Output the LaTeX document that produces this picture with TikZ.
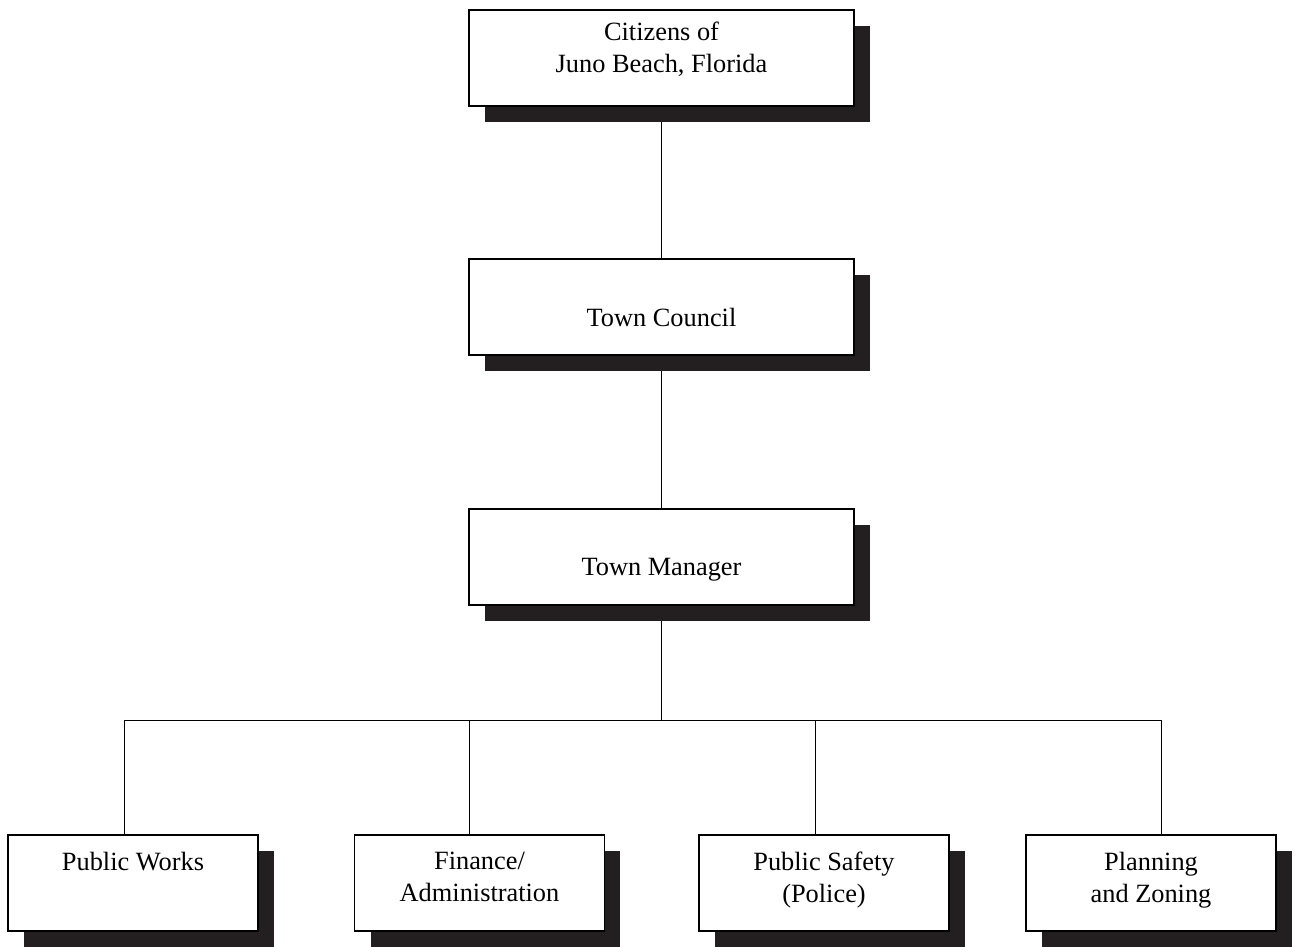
\documentclass[tikz,border=0pt]{standalone}
\usepackage{fontspec}
\setmainfont{Liberation Serif}
\usetikzlibrary{shadows,backgrounds}
\definecolor{shadowblack}{HTML}{231F20}
\begin{document}
\begin{tikzpicture}[x=0.02cm, y=-0.02cm, line width=1pt,
  unit/.style={draw, fill=white, minimum height=1.92cm, inner sep=0pt,
    drop shadow={shadow xshift=.32cm, shadow yshift=-.32cm, fill=shadowblack, opacity=1}},
  top unit/.style={unit, minimum width=7.7cm},
  dept unit/.style={unit, minimum width=5cm},
  every label/.style={font=\fontsize{15pt}{18.2pt}\selectfont, align=center, inner sep=0pt}]
\useasboundingbox (0,0) rectangle (1297,946);
\begin{scope}
\node[top unit, label={[anchor=north, yshift=-0.24cm]north:{Citizens of\\Juno Beach, Florida}}] (citizens) at (661.5,58) {};
\node[top unit, label={[anchor=north, yshift=-0.98cm]north:{Town Council}}] (council) at (661.5,307) {};
\node[top unit, label={[anchor=north, yshift=-0.98cm]north:{Town Manager}}] (manager) at (661.5,557) {};
%departments
\node[dept unit, label={[anchor=north, yshift=-0.34cm]north:{Public Works}}] (works) at (133,883) {};
\node[dept unit, label={[anchor=north, yshift=-0.34cm]north:{Finance/\\Administration}}] (finance) at (479.5,883) {};
\node[dept unit, label={[anchor=north, yshift=-0.34cm]north:{Public Safety\\(Police)}}] (safety) at (824,883) {};
\node[dept unit, label={[anchor=north, yshift=-0.34cm]north:{Planning\\and Zoning}}] (planning) at (1151,883) {};
\end{scope}
\coordinate (bus) at (661.5,720);
\coordinate (j1) at (124,720);
\coordinate (j2) at (469,720);
\coordinate (j3) at (815,720);
\coordinate (j4) at (1161,720);
\begin{scope}[on background layer]
\draw (citizens) -- (council);
\draw (council) -- (manager);
\draw (manager) -- (bus);
\draw (j1 |- works.north) -- (j1) -- (j4) -- (j4 |- planning.north);
\draw (j2) -- (j2 |- finance.north);
\draw (j3) -- (j3 |- safety.north);
\end{scope}
\end{tikzpicture}
\end{document}
